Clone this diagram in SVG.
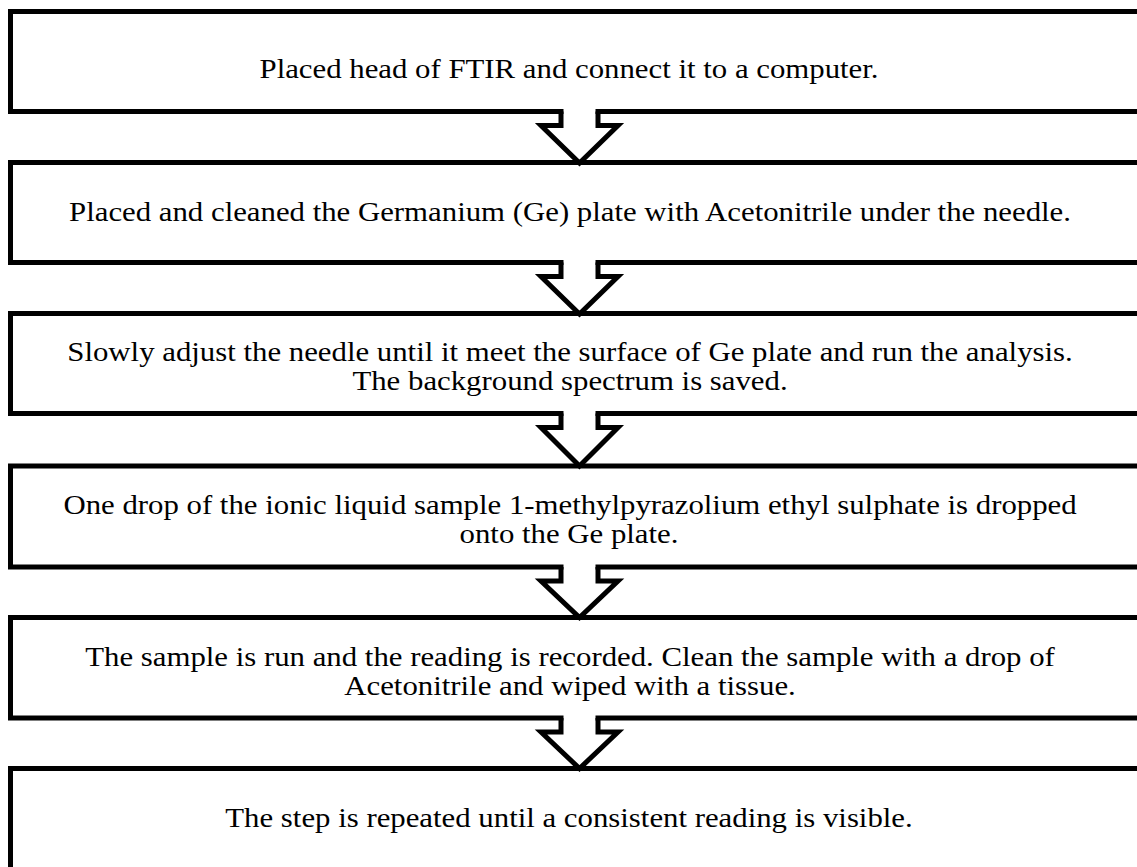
<svg xmlns="http://www.w3.org/2000/svg" width="1137" height="867" viewBox="0 0 1137 867">
<style>
.box{fill:none;stroke:#000;stroke-width:5}
.arr{fill:none;stroke:#000;stroke-width:5;stroke-linejoin:miter}
.gap{fill:#fff}
text{font-family:"Liberation Serif","Times New Roman",serif;font-size:28px;fill:#000;text-anchor:middle}
</style>
<rect width="1137" height="867" fill="#fff"/>
<g id="step1"><rect class="box" x="10.5" y="11.5" width="1140" height="100"/><text transform="scale(1.1,1)" x="517.3" y="78">Placed head of FTIR and connect it to a computer.</text></g>
<g id="step2"><rect class="box" x="10.5" y="162.5" width="1140" height="100"/><text transform="scale(1.1,1)" x="518.2" y="221">Placed and cleaned the Germanium (Ge) plate with Acetonitrile under the needle.</text></g>
<g id="step3"><rect class="box" x="10.5" y="313.5" width="1140" height="100"/><text transform="scale(1.1,1)" x="518.2" y="361">Slowly adjust the needle until it meet the surface of Ge plate and run the analysis.</text><text transform="scale(1.1,1)" x="518.2" y="390">The background spectrum is saved.</text></g>
<g id="step4"><rect class="box" x="10.5" y="466" width="1140" height="101"/><text transform="scale(1.1,1)" x="518.2" y="514">One drop of the ionic liquid sample 1-methylpyrazolium ethyl sulphate is dropped</text><text transform="scale(1.1,1)" x="517.3" y="543">onto the Ge plate.</text></g>
<g id="step5"><rect class="box" x="10.5" y="617.5" width="1140" height="100.5"/><text transform="scale(1.1,1)" x="518.2" y="666">The sample is run and the reading is recorded. Clean the sample with a drop of</text><text transform="scale(1.1,1)" x="518.2" y="695">Acetonitrile and wiped with a tissue.</text></g>
<g id="step6"><rect class="box" x="10.5" y="768.5" width="1140" height="110"/><text transform="scale(1.1,1)" x="517.3" y="827">The step is repeated until a consistent reading is visible.</text></g>
<g id="connectors">
<rect class="gap" x="563.5" y="107" width="32" height="8"/>
<path class="arr" d="M561,111.5 V125.5 H541 L579.5,163 L618,125.5 H598 V111.5"/>
<rect class="gap" x="563.5" y="258" width="32" height="8"/>
<path class="arr" d="M561,262.5 V276.5 H541 L579.5,314 L618,276.5 H598 V262.5"/>
<rect class="gap" x="563.5" y="409" width="32" height="8"/>
<path class="arr" d="M561,413.5 V427.5 H541 L579.5,466 L618,427.5 H598 V413.5"/>
<rect class="gap" x="563.5" y="563" width="32" height="8"/>
<path class="arr" d="M561,567 V581 H541 L579.5,617.5 L618,581 H598 V567"/>
<rect class="gap" x="563.5" y="714" width="32" height="8"/>
<path class="arr" d="M561,718 V732 H541 L579.5,768.5 L618,732 H598 V718"/>
</g>
</svg>
